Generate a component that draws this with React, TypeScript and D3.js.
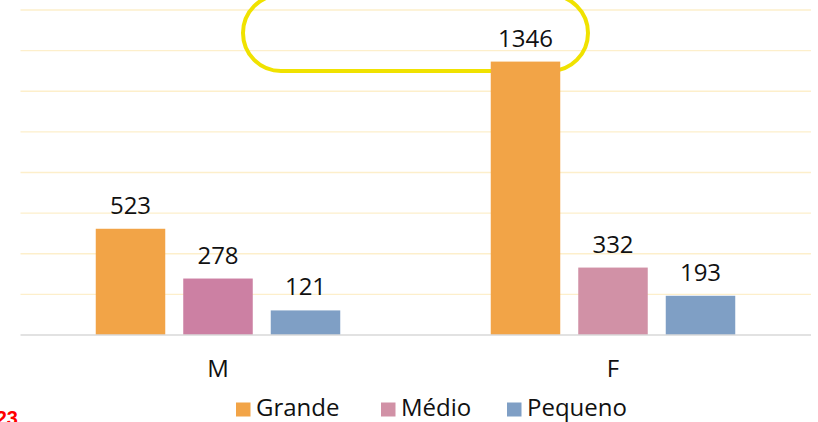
import React from "react";
import * as d3 from "d3";

const categories = ["M", "F"];
const seriesNames = ["Grande", "Médio", "Pequeno"];
const grandeValues = [523, 1346];
const medioValues = [278, 332];
const pequenoValues = [121, 193];
const yTicks = [0, 200, 400, 600, 800, 1000, 1200, 1400, 1600];
const legendColors = ["#F2A447", "#D191A6", "#7F9FC5"];
const barColors = [
  ["#F2A447", "#CC80A3", "#7F9FC5"],
  ["#F2A447", "#D191A6", "#7F9FC5"],
];

const W = 818;
const H = 422;
const FONT = "'Open Sans', 'DejaVu Sans', sans-serif";

export default function App() {
  const values = [grandeValues, medioValues, pequenoValues];
  const x0 = d3.scaleBand<string>().domain(categories).range([20.5, 810.5]).padding(0);
  const x1 = d3
    .scaleBand<string>()
    .domain(seriesNames)
    .range([0, x0.bandwidth()])
    .paddingInner(0.2057)
    .paddingOuter(0.86);
  const y = d3.scaleLinear().domain([0, 1600]).range([335, 10]);

  const legendX = [236, 381, 507];

  return (
    <svg
      width={W}
      height={H}
      style={{ position: "absolute", left: 0, top: 0, background: "#fff" }}
      fontFamily={FONT}
    >
      <rect x={0} y={0} width={W} height={H} fill="#fff" />
      {yTicks.slice(1).map((t) => (
        <line
          key={t}
          x1={20.5}
          x2={811}
          y1={y(t)}
          y2={y(t)}
          stroke="#FDEFCB"
          strokeWidth={1.4}
        />
      ))}
      <rect
        x={243}
        y={-5}
        width={345}
        height={76}
        rx={38}
        ry={38}
        fill="none"
        stroke="#F0E200"
        strokeWidth={4}
      />
      {categories.map((c, ci) => (
        <g key={c} transform={`translate(${x0(c)},0)`}>
          {seriesNames.map((s, si) => {
            const v = values[si][ci];
            const bx = x1(s) as number;
            return (
              <g key={s}>
                <rect
                  x={bx}
                  y={y(v)}
                  width={x1.bandwidth()}
                  height={y(0) - y(v)}
                  fill={barColors[ci][si]}
                />
                <text
                  x={bx + x1.bandwidth() / 2}
                  y={y(v) - 15}
                  textAnchor="middle"
                  fontSize={24}
                  fill="#111"
                >
                  {v}
                </text>
              </g>
            );
          })}
          <text
            x={x0.bandwidth() / 2}
            y={377}
            textAnchor="middle"
            fontSize={24}
            fill="#111"
          >
            {c}
          </text>
        </g>
      ))}
      <line x1={20.5} x2={811} y1={335} y2={335} stroke="#D9D9D9" strokeWidth={1.5} />
      {seriesNames.map((s, i) => (
        <g key={s}>
          <rect x={legendX[i]} y={402.5} width={14.5} height={14} fill={legendColors[i]} />
          <text x={legendX[i] + 20} y={415.5} fontSize={24} fill="#111">
            {s}
          </text>
        </g>
      ))}
      <text
        x={18}
        y={425}
        textAnchor="end"
        fontSize={20}
        fontWeight="bold"
        fontFamily="'Liberation Sans', Arial, sans-serif"
        fill="#FF0000"
      >
        2023
      </text>
    </svg>
  );
}
